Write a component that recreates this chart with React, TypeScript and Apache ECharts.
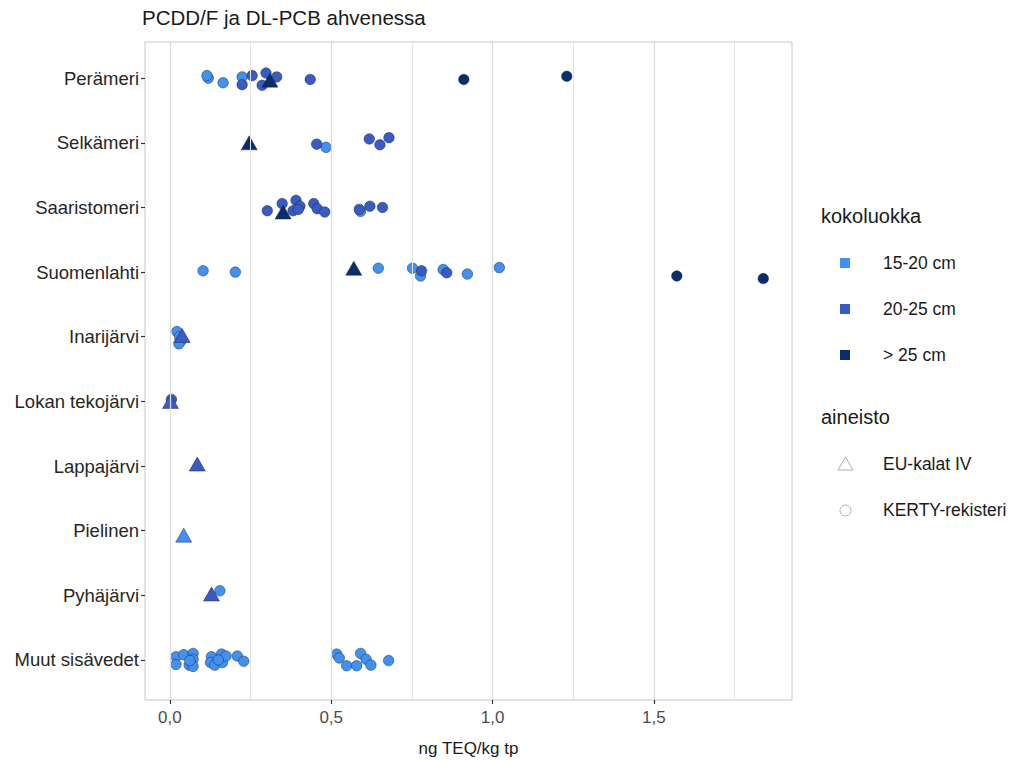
import React, { useEffect, useRef } from "react";
import * as echarts from "echarts";

// categories from bottom (index 0) to top (index 9)
const categories = [
  "Muut sisävedet",
  "Pyhäjärvi",
  "Pielinen",
  "Lappajärvi",
  "Lokan tekojärvi",
  "Inarijärvi",
  "Suomenlahti",
  "Saaristomeri",
  "Selkämeri",
  "Perämeri",
];

const sizeClasses = ["15-20 cm", "20-25 cm", "> 25 cm"];
const sizeColors = ["#4391EE", "#3A5BC2", "#0B2D6B"];
const sourceNames = ["EU-kalat IV", "KERTY-rekisteri"];

// [category, value (ng TEQ/kg tp), vertical jitter (in category units)]
type Pt = [string, number, number];

const kerty15to20: Pt[] = [
  ["Perämeri", 0.119, 0.0], ["Perämeri", 0.115, 0.04], ["Perämeri", 0.165, -0.07], ["Perämeri", 0.224, 0.02],
  ["Selkämeri", 0.484, -0.07],
  ["Saaristomeri", 0.591, -0.06],
  ["Suomenlahti", 0.103, 0.02], ["Suomenlahti", 0.203, 0.0], ["Suomenlahti", 0.646, 0.06], ["Suomenlahti", 0.752, 0.06],
  ["Suomenlahti", 0.777, -0.06], ["Suomenlahti", 0.847, 0.04], ["Suomenlahti", 0.922, -0.03], ["Suomenlahti", 1.021, 0.07],
  ["Inarijärvi", 0.022, 0.08], ["Inarijärvi", 0.030, 0.0], ["Inarijärvi", 0.035, -0.06], ["Inarijärvi", 0.028, -0.11],
  ["Pyhäjärvi", 0.155, 0.07],
  ["Muut sisävedet", 0.019, 0.05], ["Muut sisävedet", 0.019, -0.07], ["Muut sisävedet", 0.043, 0.08],
  ["Muut sisävedet", 0.072, 0.10], ["Muut sisävedet", 0.060, -0.08], ["Muut sisävedet", 0.072, 0.01],
  ["Muut sisävedet", 0.072, -0.10], ["Muut sisävedet", 0.062, -0.01], ["Muut sisävedet", 0.129, 0.05],
  ["Muut sisävedet", 0.126, -0.04], ["Muut sisävedet", 0.139, -0.08], ["Muut sisävedet", 0.160, 0.09],
  ["Muut sisävedet", 0.163, -0.04], ["Muut sisävedet", 0.174, 0.06], ["Muut sisävedet", 0.150, 0.0],
  ["Muut sisävedet", 0.209, 0.06], ["Muut sisävedet", 0.229, -0.02], ["Muut sisävedet", 0.517, 0.09],
  ["Muut sisävedet", 0.525, 0.03], ["Muut sisävedet", 0.548, -0.09], ["Muut sisävedet", 0.579, -0.09],
  ["Muut sisävedet", 0.591, 0.10], ["Muut sisävedet", 0.608, 0.01], ["Muut sisävedet", 0.623, -0.08],
  ["Muut sisävedet", 0.678, -0.01],
];

const kerty20to25: Pt[] = [
  ["Perämeri", 0.224, -0.10], ["Perämeri", 0.255, 0.04], ["Perämeri", 0.298, 0.08], ["Perämeri", 0.286, -0.11],
  ["Perämeri", 0.331, 0.02], ["Perämeri", 0.435, -0.02],
  ["Selkämeri", 0.455, -0.02], ["Selkämeri", 0.618, 0.06], ["Selkämeri", 0.651, -0.03], ["Selkämeri", 0.679, 0.08],
  ["Saaristomeri", 0.302, -0.05], ["Saaristomeri", 0.348, 0.06], ["Saaristomeri", 0.391, 0.11],
  ["Saaristomeri", 0.382, -0.05], ["Saaristomeri", 0.403, 0.02], ["Saaristomeri", 0.398, -0.03],
  ["Saaristomeri", 0.446, 0.06], ["Saaristomeri", 0.457, -0.02], ["Saaristomeri", 0.480, -0.07],
  ["Saaristomeri", 0.587, -0.03], ["Saaristomeri", 0.620, 0.02], ["Saaristomeri", 0.659, 0.0],
  ["Suomenlahti", 0.780, 0.02], ["Suomenlahti", 0.858, -0.01],
  ["Lokan tekojärvi", 0.005, 0.03],
];

const kertyOver25: Pt[] = [
  ["Perämeri", 0.911, -0.02], ["Perämeri", 1.23, 0.03],
  ["Suomenlahti", 1.571, -0.06], ["Suomenlahti", 1.839, -0.10],
];

const eu15to20: Pt[] = [["Pielinen", 0.043, -0.07]];

const eu20to25: Pt[] = [
  ["Inarijärvi", 0.038, 0.02],
  ["Lokan tekojärvi", 0.002, 0.0],
  ["Lappajärvi", 0.085, 0.03],
  ["Pyhäjärvi", 0.129, 0.02],
];

const euOver25: Pt[] = [
  ["Perämeri", 0.31, -0.03],
  ["Selkämeri", 0.246, 0.0],
  ["Saaristomeri", 0.351, -0.07],
  ["Suomenlahti", 0.570, 0.06],
];

const xMajorTicks = [0, 0.5, 1, 1.5];
const xMinorTicks = [0.25, 0.75, 1.25, 1.75];

const toXY = (pts: Pt[]) => pts.map((p) => [p[1], categories.indexOf(p[0]) + p[2]]);

export default function App() {
  const ref = useRef<HTMLDivElement>(null);
  useEffect(() => {
    if (!ref.current) return;
    const chart = echarts.init(ref.current, null, { renderer: "svg" });
    const font = "'Liberation Sans', Arial, sans-serif";
    const catIdx = categories.map((_, i) => i);

    const pointSeries = (pts: Pt[], colorIdx: number, triangle: boolean, z: number) => ({
      type: "scatter",
      data: toXY(pts),
      symbol: triangle ? "triangle" : "circle",
      symbolSize: triangle ? [16, 14] : 10.5,
      z,
      silent: true,
      itemStyle: {
        color: sizeColors[colorIdx],
        borderColor: "#1a2a4a",
        borderWidth: 0.5,
        opacity: 1,
      },
    });

    const option: any = {
      animation: false,
      backgroundColor: "#ffffff",
      textStyle: { fontFamily: font },
      grid: {
        left: 145,
        right: 219,
        top: 42,
        bottom: 60,
        containLabel: false,
        outerBoundsMode: "none",
        show: true,
        borderColor: "#c8c8c8",
        borderWidth: 1,
        backgroundColor: "#ffffff",
      },
      title: {
        text: "PCDD/F ja DL-PCB ahvenessa",
        left: 137,
        top: 2,
        textStyle: { fontFamily: font, fontSize: 20.5, fontWeight: "normal", color: "#1a1a1a" },
      },
      xAxis: {
        type: "value",
        min: -0.077,
        max: 1.928,
        name: "ng TEQ/kg tp",
        nameLocation: "middle",
        nameGap: 40,
        nameTextStyle: { fontFamily: font, fontSize: 17, color: "#1a1a1a" },
        axisLine: { show: false, onZero: false },
        splitLine: { show: false },
        axisTick: {
          show: true,
          customValues: xMajorTicks,
          length: 4,
          lineStyle: { color: "#333333", width: 1.2 },
        },
        axisLabel: {
          customValues: xMajorTicks,
          margin: 9,
          fontFamily: font,
          fontSize: 17,
          color: "#4d4d4d",
          formatter: (v: number) => v.toFixed(1).replace(".", ","),
        },
      },
      yAxis: {
        type: "value",
        min: -0.62,
        max: 9.56,
        axisLine: { show: false, onZero: false },
        splitLine: { show: false },
        axisTick: {
          show: true,
          customValues: catIdx,
          length: 4,
          lineStyle: { color: "#333333", width: 1.2 },
        },
        axisLabel: {
          customValues: catIdx,
          margin: 6,
          fontFamily: font,
          fontSize: 18.5,
          color: "#262626",
          formatter: (v: number) => categories[Math.round(v)] ?? "",
        },
      },
      series: [
        {
          type: "line",
          data: [],
          z: 1,
          silent: true,
          markLine: {
            silent: true,
            symbol: ["none", "none"],
            label: { show: false },
            data: [
              ...xMinorTicks.map((v) => ({ xAxis: v, lineStyle: { color: "#e4e4e4", width: 1, type: "solid" } })),
              ...xMajorTicks.map((v) => ({ xAxis: v, lineStyle: { color: "#dadada", width: 1.3, type: "solid" } })),
            ],
          },
        },
        pointSeries(kerty15to20, 0, false, 3),
        pointSeries(kerty20to25, 1, false, 3),
        pointSeries(kertyOver25, 2, false, 3),
        pointSeries(eu15to20, 0, true, 4),
        pointSeries(eu20to25, 1, true, 4),
        pointSeries(euOver25, 2, true, 4),
      ],
      graphic: [
        {
          type: "text",
          x: 821,
          y: 216,
          style: { text: "kokoluokka", fontFamily: font, fontSize: 20, fill: "#1a1a1a", textVerticalAlign: "middle" },
        },
        ...sizeClasses.flatMap((s, i) => [
          {
            type: "rect",
            shape: { x: 840, y: 258 + i * 46, width: 10, height: 10 },
            style: { fill: sizeColors[i] },
          },
          {
            type: "text",
            x: 883,
            y: 263 + i * 46,
            style: { text: s, fontFamily: font, fontSize: 17.5, fill: "#1a1a1a", textVerticalAlign: "middle" },
          },
        ]),
        {
          type: "text",
          x: 821,
          y: 417,
          style: { text: "aineisto", fontFamily: font, fontSize: 20, fill: "#1a1a1a", textVerticalAlign: "middle" },
        },
        {
          type: "polygon",
          shape: { points: [[838, 470], [853, 470], [845.5, 457]] },
          style: { fill: "none", stroke: "#b0b0b0", lineWidth: 1 },
        },
        {
          type: "circle",
          shape: { cx: 845.5, cy: 510.5, r: 5.5 },
          style: { fill: "none", stroke: "#b0b0b0", lineWidth: 1 },
        },
        {
          type: "text",
          x: 883,
          y: 464,
          style: { text: sourceNames[0], fontFamily: font, fontSize: 17.5, fill: "#1a1a1a", textVerticalAlign: "middle" },
        },
        {
          type: "text",
          x: 883,
          y: 510,
          style: { text: sourceNames[1], fontFamily: font, fontSize: 17.5, fill: "#1a1a1a", textVerticalAlign: "middle" },
        },
      ],
    };
    chart.setOption(option);
    return () => chart.dispose();
  }, []);
  return (
    <div
      ref={ref}
      style={{ position: "absolute", left: 0, top: 0, width: 1011, height: 760, background: "#fff" }}
    />
  );
}
